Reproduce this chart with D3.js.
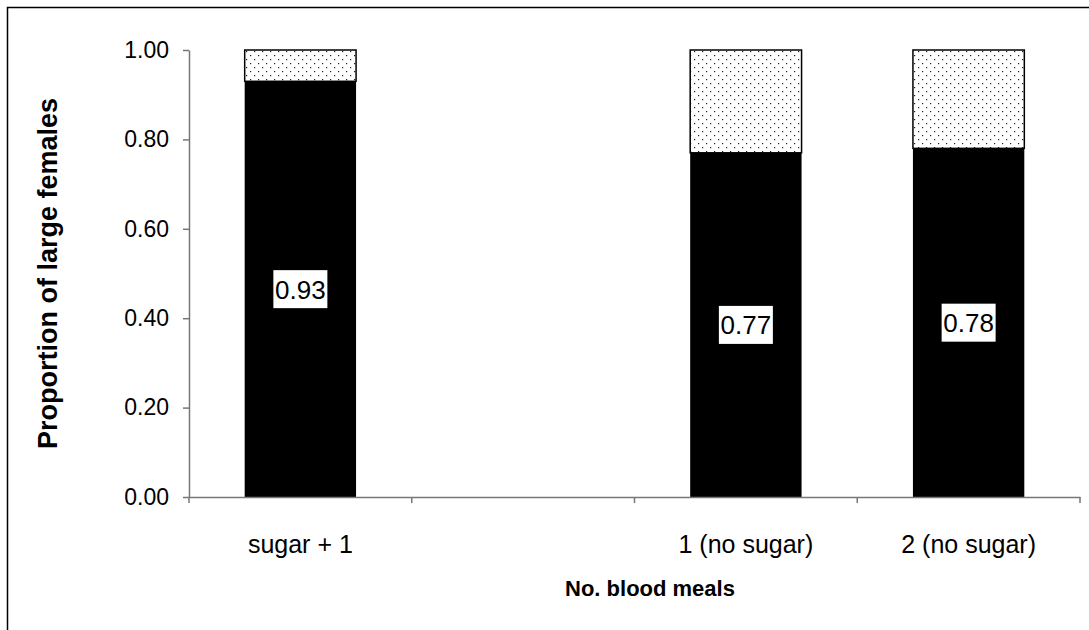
<!DOCTYPE html>
<html>
<head>
<meta charset="utf-8">
<script src="https://cdn.jsdelivr.net/npm/d3@7"></script>
<style>
  body { margin: 0; background: #fff; }
  svg { font-family: "Liberation Sans", Arial, sans-serif; }
</style>
</head>
<body>
<div id="wrapper"></div>
<script>
// data
const categories = ["sugar + 1", "", "1 (no sugar)", "2 (no sugar)"]
const largeValues = [0.93, null, 0.77, 0.78]
const yTicks = [0, 0.2, 0.4, 0.6, 0.8, 1.0]

function drawChart() {
  const width = 1089
  const height = 630
  let dimensions = {
    width: width,
    height: height,
    margin: { top: 50, right: 9, bottom: 133, left: 189 },
  }
  dimensions.boundedWidth = dimensions.width - dimensions.margin.left - dimensions.margin.right
  dimensions.boundedHeight = dimensions.height - dimensions.margin.top - dimensions.margin.bottom

  const wrapper = d3.select("#wrapper")
    .append("svg")
      .attr("width", dimensions.width)
      .attr("height", dimensions.height)

  // dotted pattern for the remaining part
  const defs = wrapper.append("defs")
  const pattern = defs.append("pattern")
      .attr("id", "dots")
      .attr("patternUnits", "userSpaceOnUse")
      .attr("width", 8)
      .attr("height", 8)
  pattern.append("rect").attr("width", 8).attr("height", 8).attr("fill", "#fff")
  pattern.append("rect").attr("x", 1).attr("y", 1).attr("width", 1.2).attr("height", 1.2).attr("fill", "#222")
  pattern.append("rect").attr("x", 5).attr("y", 5).attr("width", 1.2).attr("height", 1.2).attr("fill", "#222")

  // outer frame
  wrapper.append("rect")
      .attr("x", 7.5)
      .attr("y", 7.5)
      .attr("width", 1200)
      .attr("height", 1000)
      .attr("fill", "none")
      .attr("stroke", "#000")
      .attr("stroke-width", 1.5)

  const bounds = wrapper.append("g")
      .attr("transform", `translate(${dimensions.margin.left},${dimensions.margin.top})`)

  // scales
  const xScale = d3.scaleBand()
    .domain(d3.range(categories.length))
    .range([0, dimensions.boundedWidth])
    .paddingInner(0.5)
    .paddingOuter(0.25)

  const slotScale = d3.scaleBand()
    .domain(d3.range(categories.length))
    .range([0, dimensions.boundedWidth])

  const yScale = d3.scaleLinear()
    .domain([0, 1])
    .range([dimensions.boundedHeight, 0])

  const bars = categories.map((c, i) => ({ i, v: largeValues[i] })).filter(d => d.v != null)

  // remainder (dotted)
  bounds.selectAll(".rest")
    .data(bars)
    .enter().append("rect")
      .attr("x", d => xScale(d.i))
      .attr("y", yScale(1))
      .attr("width", xScale.bandwidth())
      .attr("height", d => yScale(d.v) - yScale(1))
      .attr("fill", "url(#dots)")
      .attr("stroke", "#000")
      .attr("stroke-width", 1.5)

  // large females (black)
  bounds.selectAll(".large")
    .data(bars)
    .enter().append("rect")
      .attr("x", d => xScale(d.i))
      .attr("y", d => yScale(d.v))
      .attr("width", xScale.bandwidth())
      .attr("height", d => yScale(0) - yScale(d.v))
      .attr("fill", "#000")

  // value labels
  const labels = bounds.selectAll(".lab")
    .data(bars)
    .enter().append("g")
      .attr("transform", d => `translate(${xScale(d.i) + xScale.bandwidth() / 2},${yScale(d.v / 2)})`)
  labels.append("rect")
      .attr("x", -27)
      .attr("y", -19)
      .attr("width", 54)
      .attr("height", 38)
      .attr("fill", "#fff")
  labels.append("text")
      .attr("text-anchor", "middle")
      .attr("dy", "0.36em")
      .style("font-size", "26px")
      .text(d => d.v.toFixed(2))

  // axes
  const xAxisGenerator = d3.axisBottom(slotScale)
    .tickSize(0)
    .tickFormat(i => categories[i])

  const xAxis = bounds.append("g")
      .attr("transform", `translate(0,${dimensions.boundedHeight})`)
      .call(xAxisGenerator)
  xAxis.select(".domain").attr("stroke", "#777").attr("stroke-width", 1.5)
  xAxis.selectAll("text")
      .attr("y", 38)
      .attr("fill", "#000")
      .style("font-size", "25px")

  // category separators
  xAxis.selectAll(".sep")
    .data(d3.range(categories.length + 1))
    .enter().append("line")
      .attr("x1", i => i * slotScale.step())
      .attr("x2", i => i * slotScale.step())
      .attr("y1", 0)
      .attr("y2", 6)
      .attr("stroke", "#777")
      .attr("stroke-width", 1.5)

  const yAxisGenerator = d3.axisLeft(yScale)
    .tickValues(yTicks)
    .tickSize(6)
    .tickSizeOuter(0)
    .tickFormat(d3.format(".2f"))

  const yAxis = bounds.append("g")
      .call(yAxisGenerator)
  yAxis.select(".domain").attr("stroke", "#777").attr("stroke-width", 1.5)
  yAxis.selectAll(".tick line").attr("stroke", "#777").attr("stroke-width", 1.5)
  yAxis.selectAll("text")
      .attr("x", -20)
      .attr("fill", "#000")
      .style("font-size", "23px")

  // axis titles
  wrapper.append("text")
      .attr("x", 650)
      .attr("y", 596)
      .attr("text-anchor", "middle")
      .style("font-size", "22px")
      .style("font-weight", "bold")
      .text("No. blood meals")

  wrapper.append("text")
      .attr("transform", `translate(57,${dimensions.margin.top + dimensions.boundedHeight / 2}) rotate(-90)`)
      .attr("text-anchor", "middle")
      .style("font-size", "27px")
      .style("font-weight", "bold")
      .text("Proportion of large females")
}
drawChart()
</script>
</body>
</html>
